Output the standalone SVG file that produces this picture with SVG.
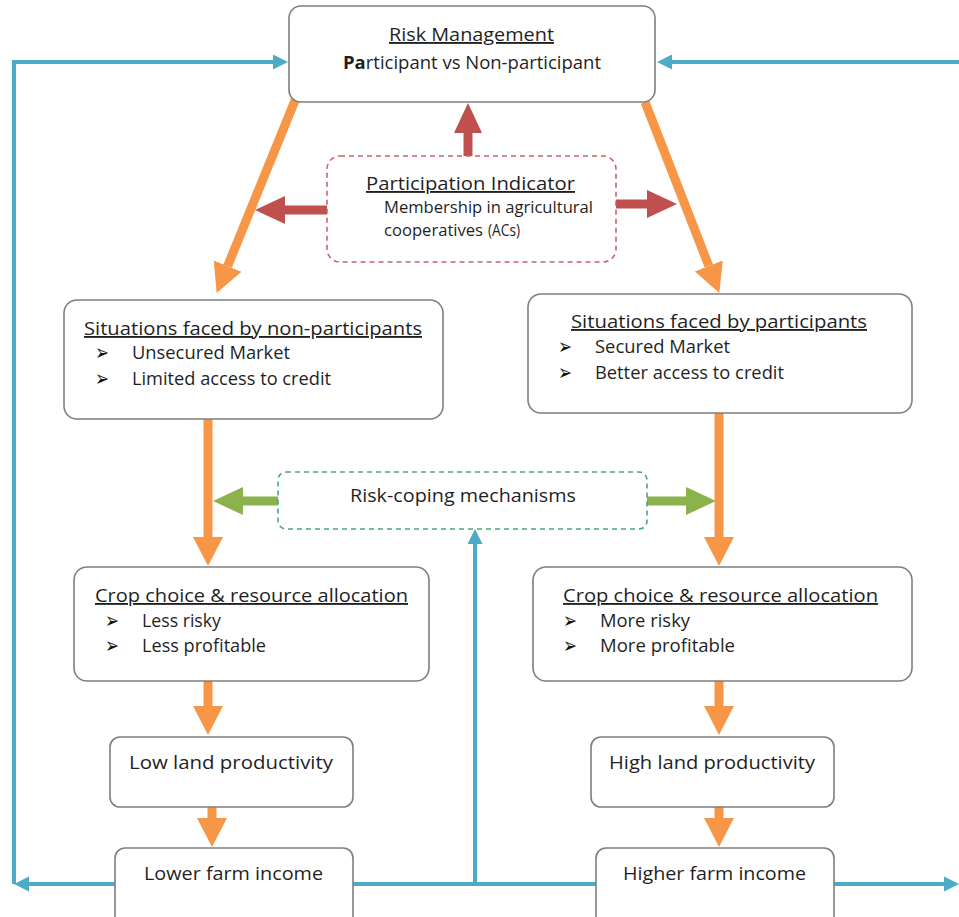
<svg xmlns="http://www.w3.org/2000/svg" width="959" height="917" viewBox="0 0 959 917">
<style>
.box{fill:#fff;stroke:#7f7f7f;stroke-width:1.6}
.t{font-family:"Open Sans","Noto Sans",sans-serif;font-size:18.5px;fill:#1f1f1f}
.s{font-family:"Open Sans","Noto Sans",sans-serif;font-size:16px;fill:#1f1f1f}
.u{text-decoration:underline}
.b{font-family:"DejaVu Sans",sans-serif;font-size:22px;fill:#111}
.or{stroke:#f79646;stroke-width:9;fill:none}
.rd{stroke:#c0504d;stroke-width:9;fill:none}
.gr{stroke:#8cb24c;stroke-width:9;fill:none}
.bl{stroke:#4bacc6;stroke-width:4;fill:none}
</style>
<defs>
<marker id="mo" markerUnits="userSpaceOnUse" markerWidth="30" markerHeight="30" viewBox="0 0 30 30" refX="0" refY="15" orient="auto"><path d="M0,0 L29,15 L0,30 z" fill="#f79646"/></marker>
<marker id="mr" markerUnits="userSpaceOnUse" markerWidth="30" markerHeight="30" viewBox="0 0 30 30" refX="0" refY="15" orient="auto"><path d="M0,1 L30,15 L0,29 z" fill="#c0504d"/></marker>
<marker id="mg" markerUnits="userSpaceOnUse" markerWidth="30" markerHeight="30" viewBox="0 0 30 30" refX="0" refY="15" orient="auto"><path d="M0,1 L30,15 L0,29 z" fill="#8cb24c"/></marker>
<marker id="mb" markerUnits="userSpaceOnUse" markerWidth="16" markerHeight="16" viewBox="0 0 16 16" refX="0" refY="8" orient="auto"><path d="M0,0.5 L15,8 L0,15.5 z" fill="#4bacc6"/></marker>
</defs>

<g id="connectors">
<path class="bl" d="M115,884 L29,884" marker-end="url(#mb)"/>
<path class="bl" d="M14,884 L14,62 L273,62" marker-end="url(#mb)"/>
<path class="bl" d="M959,62 L672,62" marker-end="url(#mb)"/>
<path class="bl" d="M834,884 L944,884" marker-end="url(#mb)"/>
<path class="bl" d="M353,884 L596,884"/>
<path class="bl" d="M475,884 L475,544" marker-end="url(#mb)"/>
<path class="or" d="M296,98 L227.6,266.1" marker-end="url(#mo)"/>
<path class="or" d="M645,102 L708.8,265.9" marker-end="url(#mo)"/>
<path class="or" d="M208,419 L208,537" marker-end="url(#mo)"/>
<path class="or" d="M719,413 L719,537" marker-end="url(#mo)"/>
<path class="or" d="M208,681 L208,706" marker-end="url(#mo)"/>
<path class="or" d="M719,681 L719,706" marker-end="url(#mo)"/>
<path class="or" d="M212,807 L212,818" marker-end="url(#mo)"/>
<path class="or" d="M719,807 L719,818" marker-end="url(#mo)"/>
<path class="rd" d="M468,156 L468,133" marker-end="url(#mr)"/>
<path class="rd" d="M327,210 L285,210" marker-end="url(#mr)"/>
<path class="rd" d="M616,204 L647,204" marker-end="url(#mr)"/>
<path class="gr" d="M278,501 L243,501" marker-end="url(#mg)"/>
<path class="gr" d="M647,501 L686,501" marker-end="url(#mg)"/>
</g>

<g id="risk-management">
<rect class="box" x="289" y="6" width="366" height="96" rx="12"/>
<text class="t u" x="389" y="41" textLength="165" lengthAdjust="spacingAndGlyphs">Risk Management</text>
<text class="t" x="343" y="69" textLength="258" lengthAdjust="spacingAndGlyphs"><tspan font-weight="bold">Pa</tspan>rticipant vs Non-participant</text>
</g>

<g id="participation-indicator">
<rect x="327" y="156" width="289" height="106" rx="13" fill="#fff" stroke="#d0606a" stroke-width="1.6" stroke-dasharray="5,4"/>
<text class="t u" x="366" y="190" textLength="209" lengthAdjust="spacingAndGlyphs">Participation Indicator</text>
<text class="s" x="384" y="213" textLength="209" lengthAdjust="spacingAndGlyphs">Membership in agricultural</text>
<text class="s" x="384" y="236" textLength="99" lengthAdjust="spacingAndGlyphs">cooperatives</text>
<text class="s" x="488" y="236" font-size="11.5" textLength="32" lengthAdjust="spacingAndGlyphs">(ACs)</text>
</g>

<g id="situations-non-participants">
<rect class="box" x="64" y="300" width="379" height="119" rx="13"/>
<text class="t u" x="84" y="335" textLength="338" lengthAdjust="spacingAndGlyphs">Situations faced by non-participants</text>
<text class="b" x="95" y="360" textLength="14" lengthAdjust="spacingAndGlyphs">➢</text>
<text class="t" x="132" y="359" textLength="158" lengthAdjust="spacingAndGlyphs">Unsecured Market</text>
<text class="b" x="95" y="386" textLength="14" lengthAdjust="spacingAndGlyphs">➢</text>
<text class="t" x="132" y="385" textLength="199" lengthAdjust="spacingAndGlyphs">Limited access to credit</text>
</g>

<g id="situations-participants">
<rect class="box" x="528" y="294" width="384" height="119" rx="13"/>
<text class="t u" x="571" y="328" textLength="296" lengthAdjust="spacingAndGlyphs">Situations faced by participants</text>
<text class="b" x="558" y="354" textLength="14" lengthAdjust="spacingAndGlyphs">➢</text>
<text class="t" x="595" y="353" textLength="135" lengthAdjust="spacingAndGlyphs">Secured Market</text>
<text class="b" x="558" y="380" textLength="14" lengthAdjust="spacingAndGlyphs">➢</text>
<text class="t" x="595" y="379" textLength="189" lengthAdjust="spacingAndGlyphs">Better access to credit</text>
</g>

<g id="risk-coping">
<rect x="278" y="472" width="369" height="57" rx="8" fill="#fff" stroke="#45a882" stroke-width="1.6" stroke-dasharray="5,4"/>
<text class="t" x="350" y="502" textLength="226" lengthAdjust="spacingAndGlyphs">Risk-coping mechanisms</text>
</g>

<g id="crop-left">
<rect class="box" x="74" y="567" width="355" height="114" rx="13"/>
<text class="t u" x="95" y="602" textLength="313" lengthAdjust="spacingAndGlyphs">Crop choice &amp; resource allocation</text>
<text class="b" x="105" y="628" textLength="14" lengthAdjust="spacingAndGlyphs">➢</text>
<text class="t" x="142" y="627" textLength="79" lengthAdjust="spacingAndGlyphs">Less risky</text>
<text class="b" x="105" y="653" textLength="14" lengthAdjust="spacingAndGlyphs">➢</text>
<text class="t" x="142" y="652" textLength="124" lengthAdjust="spacingAndGlyphs">Less profitable</text>
</g>

<g id="crop-right">
<rect class="box" x="533" y="567" width="379" height="114" rx="13"/>
<text class="t u" x="563" y="602" textLength="315" lengthAdjust="spacingAndGlyphs">Crop choice &amp; resource allocation</text>
<text class="b" x="563" y="628" textLength="14" lengthAdjust="spacingAndGlyphs">➢</text>
<text class="t" x="600" y="627" textLength="90" lengthAdjust="spacingAndGlyphs">More risky</text>
<text class="b" x="563" y="653" textLength="14" lengthAdjust="spacingAndGlyphs">➢</text>
<text class="t" x="600" y="652" textLength="135" lengthAdjust="spacingAndGlyphs">More profitable</text>
</g>

<g id="low-land">
<rect class="box" x="110" y="737" width="243" height="70" rx="10"/>
<text class="t" x="129" y="769" textLength="204" lengthAdjust="spacingAndGlyphs">Low land productivity</text>
</g>

<g id="high-land">
<rect class="box" x="591" y="737" width="243" height="70" rx="10"/>
<text class="t" x="609" y="769" textLength="206" lengthAdjust="spacingAndGlyphs">High land productivity</text>
</g>

<g id="lower-income">
<rect class="box" x="115" y="848" width="238" height="80" rx="10"/>
<text class="t" x="144" y="880" textLength="179" lengthAdjust="spacingAndGlyphs">Lower farm income</text>
</g>

<g id="higher-income">
<rect class="box" x="596" y="848" width="238" height="80" rx="10"/>
<text class="t" x="623" y="880" textLength="183" lengthAdjust="spacingAndGlyphs">Higher farm income</text>
</g>
</svg>
